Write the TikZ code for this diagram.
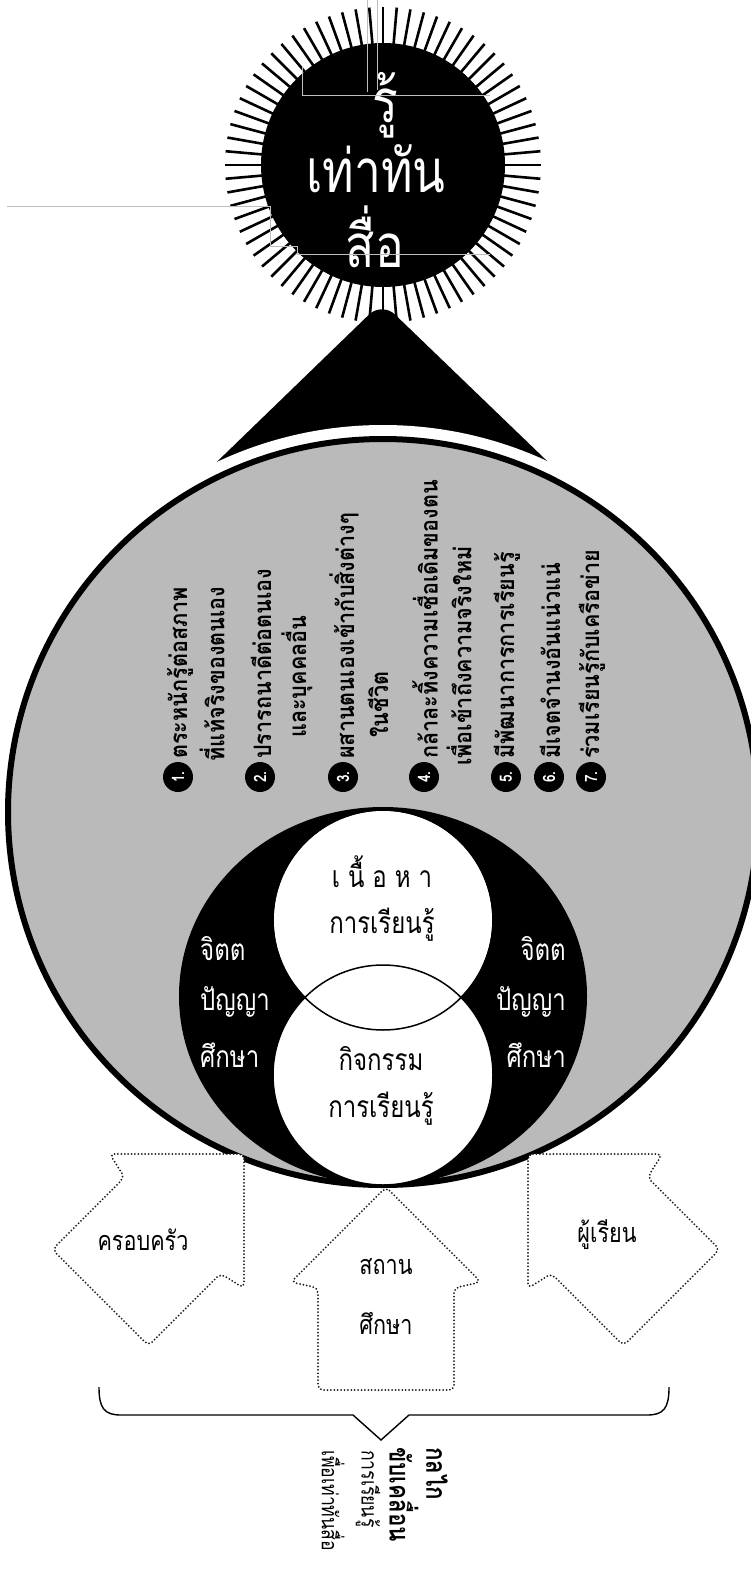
\documentclass[tikz,border=0pt]{standalone}
\usepackage{fontspec}
\newfontfamily\thai[Script=Thai, FakeStretch=0.8]{Loma}
\newfontfamily\thaiitem[Script=Thai, FakeStretch=0.9]{Loma}
\definecolor{halftone}{RGB}{186,186,186}
\definecolor{scan}{RGB}{190,190,190}

\begin{document}
\begin{tikzpicture}[
  x=1pt, y=-1pt,
  spoke/.style={line width=2.6pt},
  scanline/.style={draw=scan, line width=0.7pt},
  sunword/.style={text=white, inner sep=0pt, anchor=base, font=\thai\fontsize{60}{60}\selectfont},
  ringword/.style={inner sep=0pt, anchor=base, font=\thai\fontsize{30}{30}\selectfont},
  mindword/.style={ringword, text=white},
  bullet/.style={circle, fill=black, text=white, minimum size=30pt, inner sep=0pt, rotate=90,
                 font=\thai\bfseries\fontsize{17}{17}\selectfont},
  itemline/.style={rotate=90, anchor=west, inner sep=0pt, font=\thaiitem\bfseries\fontsize{24}{24}\selectfont},
  dotline/.style={draw=black!90, line width=2pt, dash pattern=on 0pt off 3.4pt, line cap=round},
  arrowword/.style={inner sep=0pt, font=\thai\fontsize{27}{27}\selectfont},
  capword/.style={rotate=-90, anchor=west, inner sep=0pt, font=\thai\bfseries\fontsize{28}{28}\selectfont},
  subword/.style={capword, font=\thai\fontsize{22}{22}\selectfont},
  blockarrow/.pic={
    \draw[dotline, fill=white, rounded corners=5pt] (0,0) -- (95,95) -- (68,101) -- (68,203)
      -- (-68,203) -- (-68,101) -- (-95,95) -- cycle;
  }
]
\useasboundingbox (0,0) rectangle (750,1570);

% sun on top
\coordinate (sun) at (383,165);
\fill (sun) circle[radius=122];
\foreach \a in {0,5,...,355}
  \draw[spoke] (sun) ++(\a:112) -- ++(\a:46);
\node[sunword] (know) at (385,123) {รู้};
\node[sunword] (keep) at (376,193) {เท่าทัน};
\node[sunword] (media) at (375,267) {สื่อ};

% leftover box edges of the scan
\draw[scanline] (367,0) -- (367,92);
\draw[scanline] (377,0) -- (377,90);
\draw[scanline] (302,67) -- (302,95) -- (490,95);
\draw[scanline] (7,206) -- (270,206) -- (270,246) -- (297,246) -- (297,254) -- (490,254);

% mountain
\fill[rounded corners=18pt] (193,485) -- (382,302) -- (572,485) -- cycle;

% big circle
\fill[white] (383,812) ellipse[x radius=389, y radius=387];
\filldraw[fill=halftone, line width=6pt] (383,812) ellipse[x radius=375, y radius=373];

% inner eye
\fill (383,996) ellipse[x radius=204, y radius=189];
\filldraw[fill=white, line width=1.5pt] (383,920) circle[radius=110];
\filldraw[fill=white, line width=1.5pt] (383,1075) circle[radius=110];
\draw[line width=1.5pt] (383,920) circle[radius=110];

\node[ringword] (content) at (382,887) {เ\kern8ptนื้\kern8ptอ\kern8ptห\kern8ptา};
\node[ringword] (learn1) at (382,933) {การเรียนรู้};
\node[ringword] (activity) at (381,1070) {กิจกรรม};
\node[ringword] (learn2) at (381,1117) {การเรียนรู้};
\node[mindword, anchor=base west] (jitL) at (200,960) {จิตต};
\node[mindword, anchor=base west] (panL) at (200,1010) {ปัญญา};
\node[mindword, anchor=base west] (sukL) at (200,1067) {ศึกษา};
\node[mindword, anchor=base east] (jitR) at (566,960) {จิตต};
\node[mindword, anchor=base east] (panR) at (566,1010) {ปัญญา};
\node[mindword, anchor=base east] (sukR) at (566,1067) {ศึกษา};

% seven points
\foreach \n/\x in {1/178,2/260,3/343,4/424,5/506,6/549,7/591}
  \node[bullet] (b\n) at (\x,777) {\n.};
\node[itemline] (i1a) at (180,759) {ตระหนักรู้ต่อสภาพ};
\node[itemline] (i1b) at (212,762) {ที่แท้จริงของตนเอง};
\node[itemline] (i2a) at (261,759) {ปรารถนาดีต่อตนเอง};
\node[itemline] (i2b) at (297,738) {และบุคคลอื่น};
\node[itemline] (i3a) at (344,759) {ผสานตนเองเข้ากับสิ่งต่างๆ};
\node[itemline] (i3b) at (378,738) {ในชีวิต};
\node[itemline] (i4a) at (425,759) {กล้าละทิ้งความเชื่อเดิมของตน};
\node[itemline] (i4b) at (459,766) {เพื่อเข้าถึงความจริงใหม่};
\node[itemline] (i5) at (507,759) {มีพัฒนาการการเรียนรู้};
\node[itemline] (i6) at (550,759) {มีเจตจำนงอันแน่วแน่};
\node[itemline] (i7) at (592,759) {ร่วมเรียนรู้กับเครือข่าย};

% three arrows
\pic[rotate=-45] (family) at (244,1154) {blockarrow};
\pic (school) at (386,1187) {blockarrow};
\pic[rotate=45] (learner) at (528,1154) {blockarrow};
\node[arrowword] (fam) at (143,1240) {ครอบครัว};
\node[arrowword] (sch1) at (386,1267) {สถาน};
\node[arrowword] (sch2) at (386,1323) {ศึกษา};
\node[arrowword] (lrn) at (607,1235) {ผู้เรียน};

% brace and caption
\draw[line width=1.4pt] (99,1387) .. controls (99,1408) and (104,1415) .. (121,1415) -- (353,1415)
  -- (381,1440) -- (409,1415) -- (647,1415) .. controls (664,1415) and (669,1408) .. (669,1387);
\node[capword] (mech1) at (437,1447) {กลไก};
\node[capword] (mech2) at (404,1447) {ขับเคลื่อน};
\node[subword] (mech3) at (368,1450) {การเรียนรู้};
\node[subword] (mech4) at (333,1450) {เพื่อเท่าทันสื่อ};
\end{tikzpicture}
\end{document}
